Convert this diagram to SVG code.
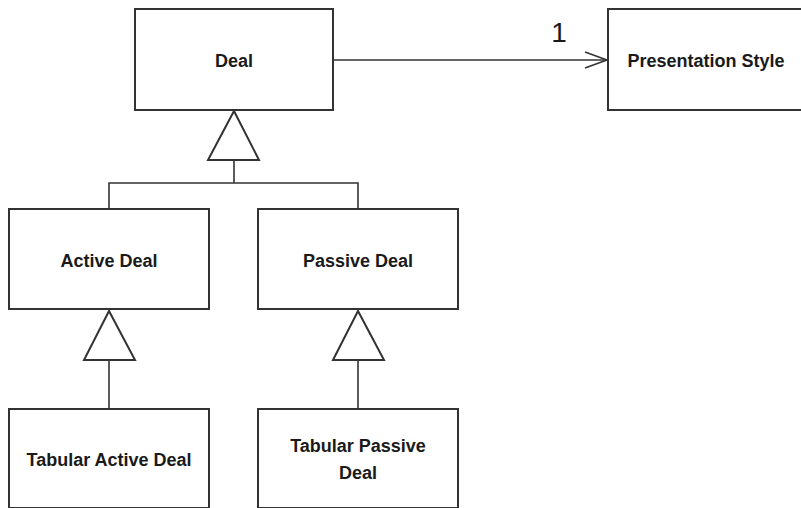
<svg xmlns="http://www.w3.org/2000/svg" width="801" height="508" viewBox="0 0 801 508">
<style>
.box{fill:#fff;stroke:#333;stroke-width:2}
.lbl{font-family:"Liberation Sans",Arial,sans-serif;font-weight:bold;font-size:18px;fill:#1a1a1a;text-anchor:middle}
.mult{font-family:"Liberation Sans",Arial,sans-serif;font-size:28px;fill:#1a1a1a;text-anchor:middle}
.ln{fill:none;stroke:#333;stroke-width:1.6}
.tri{fill:#fff;stroke:#333;stroke-width:2;stroke-linejoin:miter}
</style>
<rect width="801" height="508" fill="#fff"/>
<g id="connectors">
<line class="ln" x1="333" y1="60" x2="607" y2="60"/>
<polyline class="ln" points="585,52 607,60 585,68"/>
<text class="mult" x="559" y="42">1</text>
<line class="ln" x1="234" y1="160" x2="234" y2="183"/>
<polyline class="ln" points="109,209 109,183 358,183 358,209"/>
<polygon class="tri" points="234,111 208,160 259,160"/>
<line class="ln" x1="109" y1="360" x2="109" y2="409"/>
<polygon class="tri" points="109,311 84,360 135,360"/>
<line class="ln" x1="358" y1="360" x2="358" y2="409"/>
<polygon class="tri" points="358,311 333,360 384,360"/>
</g>
<g id="deal">
<rect class="box" x="135" y="9" width="198" height="101"/>
<text class="lbl" x="234" y="67">Deal</text>
</g>
<g id="presentation-style">
<rect class="box" x="608" y="9" width="200" height="101"/>
<text class="lbl" x="706" y="67">Presentation Style</text>
</g>
<g id="active-deal">
<rect class="box" x="9" y="209" width="200" height="100"/>
<text class="lbl" x="109" y="267">Active Deal</text>
</g>
<g id="passive-deal">
<rect class="box" x="258" y="209" width="200" height="100"/>
<text class="lbl" x="358" y="267">Passive Deal</text>
</g>
<g id="tabular-active-deal">
<rect class="box" x="9" y="409" width="200" height="99"/>
<text class="lbl" x="109" y="466">Tabular Active Deal</text>
</g>
<g id="tabular-passive-deal">
<rect class="box" x="258" y="409" width="200" height="99"/>
<text class="lbl" x="358" y="452">Tabular Passive</text>
<text class="lbl" x="358" y="479">Deal</text>
</g>
</svg>
